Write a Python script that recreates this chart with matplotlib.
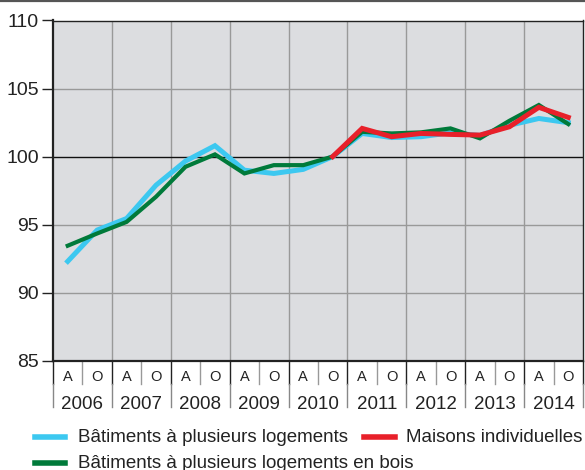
import matplotlib
matplotlib.use("Agg")
import matplotlib.pyplot as plt
from matplotlib.lines import Line2D
import matplotlib.transforms as mtransforms

plt.rcParams['font.family'] = ['Liberation Sans', 'DejaVu Sans']

years = ["2006", "2007", "2008", "2009", "2010", "2011", "2012", "2013", "2014"]
halves = ["A", "O"]

cyan_vals = [92.3, 94.6, 95.45, 97.9, 99.67, 100.8, 99.0, 98.76, 99.06, 100.0,
             101.7, 101.4, 101.46, 101.75, 101.55, 102.3, 102.8, 102.49]
green_vals = [93.45, 94.35, 95.2, 97.05, 99.25, 100.16, 98.76, 99.37, 99.37, 100.0,
              101.82, 101.7, 101.78, 102.07, 101.34, 102.63, 103.79, 102.39]
red_vals = [100.0, 102.07, 101.46, 101.7, 101.63, 101.58, 102.19, 103.62, 102.88]

labels = ["Bâtiments à plusieurs logements", "Maisons individuelles",
          "Bâtiments à plusieurs logements en bois"]

c_cyan = "#3cc8f0"
c_green = "#007a3a"
c_red = "#e8202a"

W, H = 585, 470
fig = plt.figure(figsize=(W / 100, H / 100), dpi=100)
ax = fig.add_axes([53 / W, 1 - 360.7 / H, (583 - 53) / W, (360.7 - 20.5) / H])
ax.set_facecolor("#dcdde0")

n = len(cyan_vals)
x_all = [i + 0.5 for i in range(n)]
x_red = x_all[n - len(red_vals):]

ax.plot(x_all, cyan_vals, color=c_cyan, lw=3.6, solid_joinstyle='miter', zorder=3)
ax.plot(x_all, green_vals, color=c_green, lw=3.0, solid_joinstyle='miter', zorder=4)
ax.plot(x_red, red_vals, color=c_red, lw=3.6, solid_joinstyle='miter', zorder=5)

ax.set_xlim(0, n)
ax.set_ylim(85, 110)
ax.set_yticks([85, 90, 95, 100, 105, 110])
ax.tick_params(axis='y', direction='out', length=8, width=1, color='#222222',
               labelsize=14, labelcolor='#222222', pad=2)
ax.set_xticks([])

for v in [90, 95, 105]:
    ax.axhline(v, color='#999999', lw=1.0, zorder=1)
ax.axhline(100, color='#111111', lw=1.0, zorder=2)
for k in range(2, n, 2):
    ax.axvline(k, color='#999999', lw=1.0, zorder=1)

for s in ['left', 'bottom']:
    ax.spines[s].set_color('#222222')
    ax.spines[s].set_linewidth(1.6)
for s in ['top', 'right']:
    ax.spines[s].set_color('#222222')
    ax.spines[s].set_linewidth(1.0)

trans = mtransforms.blended_transform_factory(ax.transData, fig.transFigure)
def fy(py):
    return 1 - py / H

# year separators
for k in range(0, n + 1, 2):
    ax.add_line(Line2D([k, k], [fy(361), fy(384)], transform=trans, color='#222222',
                       lw=1.0, clip_on=False))
    ax.add_line(Line2D([k, k], [fy(384), fy(407)], transform=trans, color='#888888',
                       lw=1.0, clip_on=False))
# half-year ticks
for k in range(1, n, 2):
    ax.add_line(Line2D([k, k], [fy(361), fy(384)], transform=trans, color='#999999',
                       lw=1.0, clip_on=False))

for i in range(n):
    ax.text(i + 0.5, fy(381), halves[i % 2], transform=trans, ha='center', va='baseline',
            fontsize=10.5, color='#222222')
for j, yr in enumerate(years):
    ax.text(2 * j + 1, fy(409), yr, transform=trans, ha='center', va='baseline',
            fontsize=13.5, color='#222222')

# legend (manual)
def handle(x0, x1, py, color):
    fig.add_artist(Line2D([x0 / W, x1 / W], [fy(py), fy(py)], color=color, lw=4.0,
                          transform=fig.transFigure))

handle(35, 65, 437, c_cyan)
fig.text(77.5 / W, fy(437), labels[0], ha='left', va='center', fontsize=13.5, color='#222222')
handle(364, 395, 437, c_red)
fig.text(406.5 / W, fy(437), labels[1], ha='left', va='center', fontsize=13.5, color='#222222')
handle(35, 65, 463, c_green)
fig.text(77.5 / W, fy(463), labels[2], ha='left', va='center', fontsize=13.5, color='#222222')

# top rule
fig.add_artist(Line2D([0, 1], [fy(0.8), fy(0.8)], color='#555555', lw=1.6,
                      transform=fig.transFigure))

fig.savefig("out.png", dpi=100)
